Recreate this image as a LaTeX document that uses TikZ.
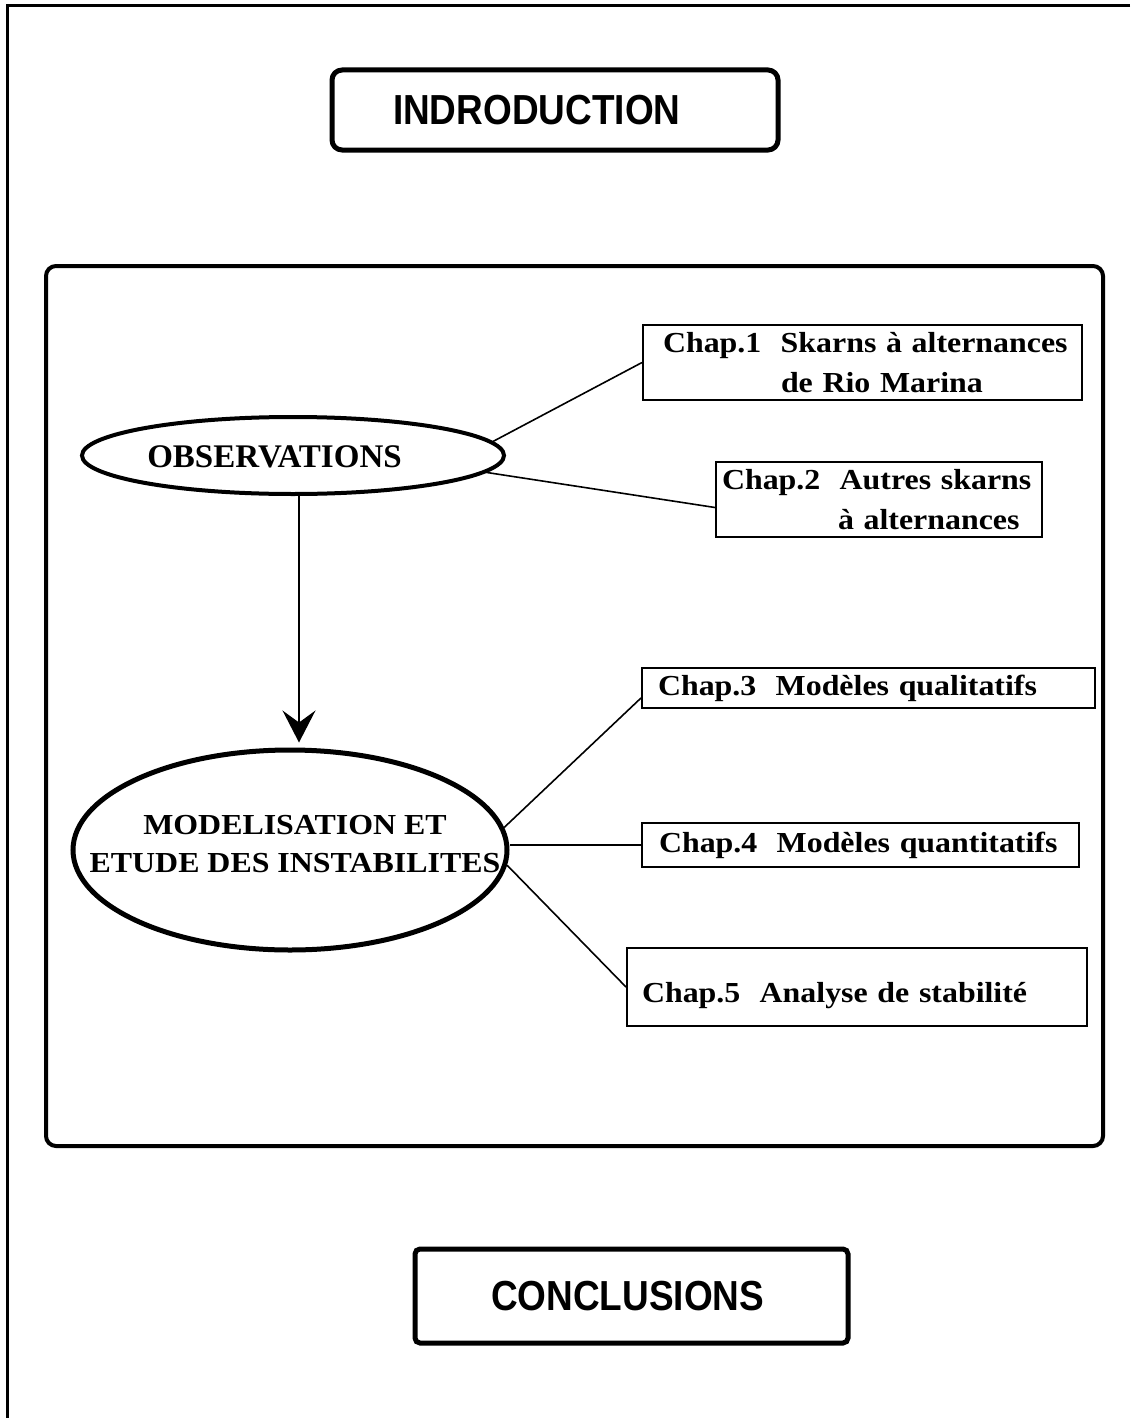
\documentclass[tikz,border=0pt]{standalone}
\usepackage{fontspec}
\setmainfont{Liberation Serif}
\newfontfamily\chapfont[FakeStretch=1.1]{Liberation Serif}
\newfontfamily\headfont[FakeStretch=0.88]{Liberation Sans}
\usetikzlibrary{shapes.geometric,arrows.meta}
\setlength\parindent{0pt}
\tikzset{
  headbox/.style={draw, line width=5pt, inner sep=0pt, align=left,
    font={\headfont\bfseries\fontsize{42}{46}\selectfont}},
  chapbox/.style={draw, line width=2pt, inner sep=0pt, align=left,
    font={\chapfont\bfseries\fontsize{29}{40}\selectfont}},
  chapline/.style={line width=1.6pt},
  blob/.style={draw, ellipse, inner sep=0pt},
}
\begin{document}
\begin{tikzpicture}[x=1pt,y=-1pt]
\useasboundingbox (0,0) rectangle (1130,1418);
% outer page frame
\draw[line width=3pt] (1130,6) -- (7,6) -- (7,1418);

% top and bottom boxes
\node[headbox, rounded corners=10pt, text width=446pt, minimum height=80pt] (intro) at (555,110) {\hspace*{61pt}INDRODUCTION};
\node[headbox, rounded corners=5pt, text width=433pt, minimum height=94pt] (concl) at (631.5,1296) {\hspace*{76pt}CONCLUSIONS};

% big frame
\node[draw, line width=4pt, rounded corners=10pt, minimum width=1057pt, minimum height=880pt, inner sep=0pt] (frame) at (574.5,706) {};

% ellipses
\node[blob, line width=4pt, minimum width=422pt, minimum height=77pt] (obs) at (293,455.5) {};
\node[font={\bfseries\fontsize{33}{38}\selectfont}, inner sep=0pt] (obstext) at (274.5,457) {OBSERVATIONS};
\node[blob, line width=5pt, minimum width=434pt, minimum height=200pt] (mod) at (290,850) {};
\node[font={\chapfont\bfseries\fontsize{29}{38}\selectfont}, align=center, inner sep=0pt] (modtext) at (295,844) {MODELISATION ET\\ETUDE DES INSTABILITES};

% chapter boxes
\node[chapbox, text width=439pt, minimum height=75pt] (c1) at (862.5,362.5) {\hspace*{20pt}Chap.1~~Skarns à alternances\\\hspace*{138pt}de Rio Marina};
\node[chapbox, text width=326pt, minimum height=75pt] (c2) at (879,499.5) {\hspace*{6pt}Chap.2~~Autres skarns\\\hspace*{122pt}à alternances};
\node[chapbox, text width=453pt, minimum height=40pt] (c3) at (868.5,688) {\hspace*{16pt}Chap.3~~Modèles qualitatifs};
\node[chapbox, text width=437pt, minimum height=44pt] (c4) at (860.5,845) {\hspace*{17pt}Chap.4~~Modèles quantitatifs};
\node[chapbox, text width=460pt, minimum height=78pt] (c5) at (857,987) {\hspace*{15pt}\rule{0pt}{37pt}Chap.5~~Analyse de stabilité};

% connectors
\draw[chapline] (obs.4) -- (c1.west);
\draw[chapline] (obs.-5) -- ([yshift=-8pt]c2.west);
\draw[chapline] (mod.6) -- ([yshift=-10pt]c3.west);
\draw[chapline] (mod.east |- c4.west) -- (c4.west);
\draw[chapline] (mod.-4) -- (c5.west);
\draw[line width=1.5pt, -{Stealth[length=32pt,width=33pt,inset=12pt]}, shorten >=5pt]
  ([xshift=6pt]obs.south) -- ([xshift=6pt]obs.south |- mod.north);
\end{tikzpicture}
\end{document}
